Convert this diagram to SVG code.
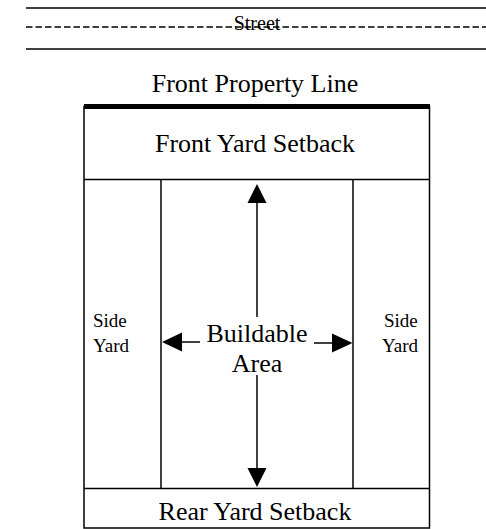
<svg xmlns="http://www.w3.org/2000/svg" width="486" height="529" viewBox="0 0 486 529">
<defs>
<style>
.t{font-family:"Liberation Serif","Times New Roman","DejaVu Serif",serif;fill:#000;text-anchor:middle}
.big{font-size:26px}
.sm{font-size:19px;text-anchor:start}
.st{font-size:20px}
.ln{stroke:#000;stroke-width:1.5;fill:none}
.ar{fill:#000;stroke:none}
</style>
</defs>
<g id="street">
<line class="ln" x1="26" y1="8" x2="486" y2="8"/>
<line class="ln" x1="26" y1="27" x2="486" y2="27" stroke-dasharray="6.5,3"/>
<line class="ln" x1="26" y1="49" x2="486" y2="49"/>
<text class="t st" x="257" y="29.5">Street</text>
</g>
<g id="front-property-line">
<text class="t big" x="255" y="92">Front Property Line</text>
<line x1="84" y1="106.5" x2="430" y2="106.5" stroke="#000" stroke-width="5"/>
</g>
<g id="lot">
<rect class="ln" x="84" y="106.5" width="345.5" height="421.5"/>
</g>
<g id="front-yard-setback">
<line class="ln" x1="84" y1="179.5" x2="429.5" y2="179.5"/>
<text class="t big" x="255" y="152">Front Yard Setback</text>
</g>
<g id="left-side-yard">
<line class="ln" x1="161" y1="179.5" x2="161" y2="488.5"/>
<text class="t sm" x="93" y="327">Side</text>
<text class="t sm" x="93" y="352">Yard</text>
</g>
<g id="right-side-yard">
<line class="ln" x1="353" y1="179.5" x2="353" y2="488.5"/>
<text class="t sm" x="384" y="327">Side</text>
<text class="t sm" x="382" y="352">Yard</text>
</g>
<g id="buildable-area">
<text class="t big" x="257" y="342">Buildable</text>
<text class="t big" x="257" y="372">Area</text>
</g>
<g id="rear-yard-setback">
<line class="ln" x1="84" y1="488.5" x2="429.5" y2="488.5"/>
<text class="t big" x="255" y="520">Rear Yard Setback</text>
</g>
<g id="connectors">
<line class="ln" x1="257" y1="202" x2="257" y2="317"/>
<polygon class="ar" points="257,184 247.5,203 266.5,203"/>
<line class="ln" x1="257" y1="375" x2="257" y2="469"/>
<polygon class="ar" points="257,487 247.5,468 266.5,468"/>
<line class="ln" x1="181" y1="342" x2="200" y2="342"/>
<polygon class="ar" points="162,342 182,332.5 182,351.5"/>
<line class="ln" x1="314" y1="343" x2="333" y2="343"/>
<polygon class="ar" points="352.5,343 332,333.5 332,352.5"/>
</g>
</svg>
